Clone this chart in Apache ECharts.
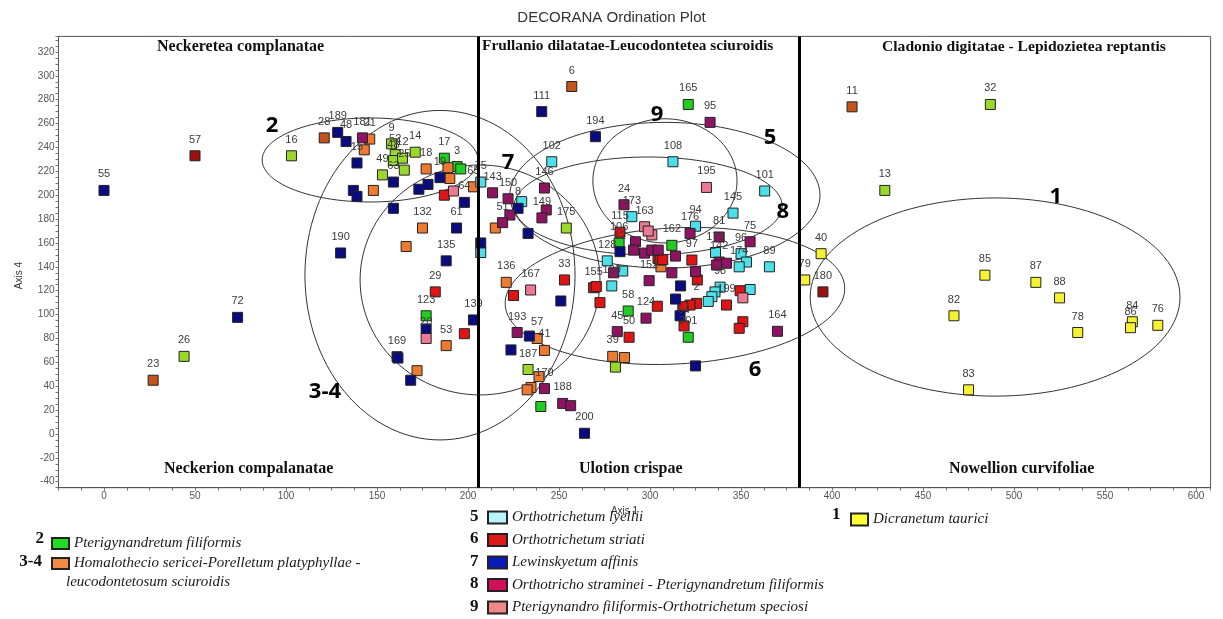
<!DOCTYPE html>
<html><head><meta charset="utf-8">
<script src="https://cdn.jsdelivr.net/npm/echarts@6/dist/echarts.min.js"></script>
<style>html,body{margin:0;padding:0;background:#fff}#c{width:1223px;height:619px}</style>
</head><body><div id="c"></div>
<script>
// ---- data: [Axis1, Axis4, releve label] ----
const g1 = [[484,133,'85'],[512,127,'87'],[525,114,'88'],[467,99,'82'],[535,85,'78'],[565,94,'84'],[564,89,'86'],[579,91,'76'],[475,37,'83'],[394,151,'40'],[385,129,'79']];
const g2 = [[321,276,'165'],[187,231,'17'],[194,224,'3'],[196,222,''],[283,160,'106'],[312,158,'162'],[288,103,'58'],[321,81,'201'],[177,99,'123'],[240,23,'']];
const g34 = [[146,247,'21'],[143,238,''],[148,204,''],[177,222,'18'],[189,223,''],[190,214,''],[203,207,'65'],[175,172.5,'132'],[166,157,''],[215,172.5,''],[188,74,'53'],[172,53,''],[221,127,'136'],[238,80,'57'],[242,70,'41'],[239,48,''],[234.6,39,''],[232.5,37,''],[306,140,''],[279.5,65,'39'],[286,64,'']];
const g34dark = [[411,274,'11'],[121,248,'28'],[27,45,'23'],[257,291,'6']];
const g5 = [[312.6,228,'108'],[363,203.5,'101'],[345.6,185,'145'],[246,228,'102'],[229.5,194.6,''],[207,211,'75'],[207,152,''],[290,182,'173'],[325,174,'94'],[276.5,145,'128'],[285,136.5,''],[279,124,'120'],[336,152,'179'],[350,151,'96'],[353,144,''],[349,140,'174'],[365.6,140,'89'],[355,121,''],[338.5,123,'98'],[335.7,119,''],[334,115,''],[332,111,'']];
const g6 = [[187,200,''],[182,119,'29'],[198,84,''],[225,116,''],[253,129,'33'],[269,122.5,'155'],[270.5,123.4,''],[272.5,110,''],[283.5,169,'115'],[304.4,147,''],[305.5,145.7,''],[307,146,''],[323,145.7,'97'],[326,129,''],[304,107,''],[325.6,109.4,'2'],[322,108,''],[318,106.6,''],[318.7,90.5,'54'],[288.5,81,'50'],[349.5,120,''],[342,108,'199'],[351,94,''],[349,88.5,'']];
const g7 = [[0,204,'55'],[128.4,252.6,'189'],[133,245,'48'],[139,227,'15'],[137,204,''],[139,199,''],[159,211,'63'],[173,205,''],[178,209,''],[184.6,214.7,'19'],[198,194,'64'],[159,189,''],[193.7,172.5,'61'],[130,151.6,'190'],[188,145,'135'],[207,160,''],[240.5,270,'111'],[270,249,'194'],[227.5,189,'8'],[233,168,''],[283.5,152.7,'12'],[316.8,124,''],[314,113,''],[316.5,99,''],[203,95.5,'139'],[177,88,''],[161,64.7,'169'],[161.5,63.6,''],[168.5,45,''],[251,111.4,''],[233.7,82,''],[223.6,70.4,''],[325,57,''],[264,0.6,'200'],[73.4,97.7,'72']];
const g8 = [[333,261,'95'],[142,248,'181'],[213.5,202,'143'],[222,197,'150'],[223,183.4,''],[219,177,'51'],[242,206,'146'],[243,187.6,''],[240.6,181,'149'],[285.7,192,'24'],[292,161,''],[291,154,''],[297,151.5,''],[301,154,''],[304.5,154,''],[314,149,''],[312,135,''],[325,136,''],[299.5,128.4,'152'],[322,168,'176'],[338,165,'81'],[338,144,'142'],[342,143,''],[336.6,141.5,''],[355,161,'75'],[280,135,''],[297.8,97,'124'],[282,85.7,'45'],[370,86,'164'],[227,85,'193'],[242,38,'170'],[252,25.6,'188'],[256.4,23.7,'']];
const g9 = [[331,206.5,'195'],[192,203.5,''],[297,173.6,'163'],[301,166.7,''],[299,170,''],[177,80,'20'],[234.4,120.6,'167'],[351,114,'']];
const gYG = [[103,233,'16'],[44,65,'26'],[487,276,'32'],[429,204,'13'],[158,243,'9'],[160,234,'52'],[159,229,'48'],[164,231,'12'],[171,236,'14'],[165,221,'25'],[153,217,'49'],[254,172.5,'175'],[233,54,'187'],[281,56,'']];
const gDR = [[50,233,'57'],[395,119,'180']];
// ellipses: [centre Axis1, centre Axis4, radius Axis1, radius Axis4, rotation deg]
const ellipses = [[146.2,229.5,59.3,35.2,0],[184.6,133,74.2,138,0],[206.6,129,65.9,96.3,0],[308.2,212,39.6,52,0],[308.2,200,85.2,61,0],[299,191,73.6,41,0],[313.7,115.6,93.4,57,-3],[489.6,114.7,101.6,83,0]];
const ellipseLabels = [[92.3,258,'2'],[121.4,35,'3-4'],[222,227,'7'],[303.8,267,'9'],[366,248,'5'],[373,186,'8'],[357.7,53.6,'6'],[523,198.5,'1']];
const dividers = [205.5, 381.9];
const xTicks = [0,50,100,150,200,250,300,350,400,450,500,550,600];
const yTicks = [-40,-20,0,20,40,60,80,100,120,140,160,180,200,220,240,260,280,300,320];
const names = {
  g1:'Dicranetum taurici', g2:'Pterigynandretum filiformis',
  g34:'Homalothecio sericei-Porelletum platyphyllae - leucodontetosum sciuroidis',
  g5:'Orthotrichetum lyellii', g6:'Orthotrichetum striati', g7:'Lewinskyetum affinis',
  g8:'Orthotricho straminei - Pterigynandretum filiformis', g9:'Pterigynandro filiformis-Orthotrichetum speciosi'
};

const chart = echarts.init(document.getElementById('c'), null, {renderer:'canvas'});
function pts(name, data, color, z) {
  return {
    type:'scatter', name:name, data:data, symbol:'rect', symbolSize:10, z:z||3,
    itemStyle:{color:color, borderColor:'#222', borderWidth:1, opacity:1},
    label:{show:true, position:'top', distance:5, formatter:p=>p.data[2], fontSize:11, color:'#3a3a3a', fontFamily:'Liberation Sans, Arial'},
    labelLayout:{hideOverlap:false}, emphasis:{disabled:true}
  };
}
function ellipseItem(params, api) {
  const c = api.coord([api.value(0), api.value(1)]);
  const rx = api.size([api.value(2), 0])[0];
  const ry = api.size([0, api.value(3)])[1];
  const rot = api.value(4) * Math.PI / 180;
  const p = [];
  for (let i = 0; i < 120; i++) {
    const t = i / 120 * 2 * Math.PI;
    const ex = rx * Math.cos(t), ey = ry * Math.sin(t);
    p.push([c[0] + ex*Math.cos(rot) - ey*Math.sin(rot), c[1] + ex*Math.sin(rot) + ey*Math.cos(rot)]);
  }
  return {type:'polygon', shape:{points:p}, style:{fill:null, stroke:'#333', lineWidth:1}};
}
const serif = 'Liberation Serif, Times New Roman, serif';
const legendText = {fontFamily:serif, fontStyle:'italic', fontSize:15, color:'#1a1a1a'};
const option = {
  animation:false,
  backgroundColor:'#fff',
  title:{text:'DECORANA Ordination Plot', left:'center', top:5, textStyle:{fontSize:15, fontWeight:'normal', color:'#333', fontFamily:'Liberation Sans Narrow, Liberation Sans, Arial'}},
  grid:{left:58.5, right:12.4, top:36.4, bottom:131.3, show:true, borderColor:'#555', borderWidth:1},
  xAxis:{type:'value', min:-25, max:608, interval:12.5, name:'Axis 1', nameLocation:'middle', nameGap:14,
    nameTextStyle:{fontSize:10, color:'#333', fontFamily:'Liberation Sans, Arial', padding:[0,20,0,0]},
    axisLine:{show:true, onZero:false, lineStyle:{color:'#555'}}, splitLine:{show:false},
    axisTick:{show:true, length:3, lineStyle:{color:'#777'}},
    axisLabel:{fontSize:10, color:'#555', margin:4, fontFamily:'Liberation Sans, Arial', formatter:v=>xTicks.includes(v)?String(v):''}},
  yAxis:{type:'value', min:-45, max:333, interval:5,
    axisLine:{show:true, onZero:false, lineStyle:{color:'#555'}}, splitLine:{show:false},
    axisTick:{show:true, length:3, lineStyle:{color:'#777'}},
    axisLabel:{fontSize:10, color:'#555', margin:4, fontFamily:'Liberation Sans, Arial', formatter:v=>yTicks.includes(v)?String(v):''}},
  legend:[
    {orient:'vertical', left:46, top:531, itemWidth:17, itemHeight:11, itemGap:5, textStyle:legendText,
      data:[{name:names.g2, itemStyle:{color:'#22dd22'}}, {name:names.g34, itemStyle:{color:'#f08a45'}}],
      formatter:n=>n===names.g34?'Homalothecio sericei-Porelletum platyphyllae -':n},
    {orient:'vertical', left:487, top:510, height:130, padding:0, itemWidth:19, itemHeight:12, itemGap:7.5, textStyle:legendText,
      data:[{name:names.g5, itemStyle:{color:'#b8f4f8'}},{name:names.g6, itemStyle:{color:'#e01818'}},{name:names.g7, itemStyle:{color:'#0a1ab8'}},{name:names.g8, itemStyle:{color:'#d0105a'}},{name:names.g9, itemStyle:{color:'#f08888'}}]},
    {orient:'vertical', left:845, top:507, itemWidth:17, itemHeight:12, textStyle:legendText,
      data:[{name:names.g1, itemStyle:{color:'#ffff33'}}]}
  ],
  graphic:[
    {type:'text', left:157, top:39, style:{text:'Neckeretea complanatae', font:'bold 16px '+serif, fill:'#111'}},
    {type:'text', left:482, top:39, style:{text:'Frullanio dilatatae-Leucodontetea sciuroidis', font:'bold 15.4px '+serif, fill:'#111'}},
    {type:'text', left:882, top:39, style:{text:'Cladonio digitatae - Lepidozietea reptantis', font:'bold 15.6px '+serif, fill:'#111'}},
    {type:'text', left:164, top:461, style:{text:'Neckerion compalanatae', font:'bold 16px '+serif, fill:'#111'}},
    {type:'text', left:579, top:461, style:{text:'Ulotion crispae', font:'bold 16px '+serif, fill:'#111'}},
    {type:'text', left:949, top:461, style:{text:'Nowellion curvifoliae', font:'bold 16px '+serif, fill:'#111'}},
    {type:'text', left:14, top:262, rotation:Math.PI/2, style:{text:'Axis 4', font:'10px Liberation Sans, Arial', fill:'#333', align:'center', verticalAlign:'middle'}},
    {type:'text', right:1223-44, top:530, style:{text:'2', font:'bold 17px '+serif, fill:'#111', align:'right'}},
    {type:'text', right:1223-42, top:553, style:{text:'3-4', font:'bold 17px '+serif, fill:'#111', align:'right'}},
    {type:'text', left:66, top:575, style:{text:'leucodontetosum sciuroidis', font:'italic 15px '+serif, fill:'#1a1a1a'}},
    {type:'text', left:470, top:508, style:{text:'5', font:'bold 17px '+serif, fill:'#111'}},
    {type:'text', left:470, top:530.5, style:{text:'6', font:'bold 17px '+serif, fill:'#111'}},
    {type:'text', left:470, top:553, style:{text:'7', font:'bold 17px '+serif, fill:'#111'}},
    {type:'text', left:470, top:575.5, style:{text:'8', font:'bold 17px '+serif, fill:'#111'}},
    {type:'text', left:470, top:598, style:{text:'9', font:'bold 17px '+serif, fill:'#111'}},
    {type:'text', left:832, top:506, style:{text:'1', font:'bold 17px '+serif, fill:'#111'}}
  ],
  series:[
    {type:'custom', name:'ellipses', data:ellipses, renderItem:ellipseItem, z:2, silent:true,
      markLine:{silent:true, symbol:'none', label:{show:false}, lineStyle:{color:'#000', width:3, type:'solid'},
        data:dividers.map(v=>({xAxis:v}))}},
    {type:'scatter', name:'ellipse labels', data:ellipseLabels, symbolSize:0, z:6, silent:true,
      itemStyle:{opacity:1},
      label:{show:true, position:'inside', formatter:p=>p.data[2], fontSize:22, fontWeight:'bold', color:'#000', opacity:1, fontFamily:'Open Sans, Liberation Sans'}},
    pts(names.g1, g1, '#f6f230'),
    pts(names.g2, g2, '#22cc22'),
    pts(names.g34, g34, '#ee7a32'),
    pts('g34 dark', g34dark, '#c4531c'),
    pts(names.g5, g5, '#4ee0ea'),
    pts(names.g6, g6, '#e01414'),
    pts(names.g7, g7, '#0b0b80'),
    pts(names.g8, g8, '#8e1463'),
    pts(names.g9, g9, '#ec7a92'),
    pts('yellow-green', gYG, '#9ad82c'),
    pts('dark red', gDR, '#9a1212')
  ]
};
chart.setOption(option);
</script></body></html>
